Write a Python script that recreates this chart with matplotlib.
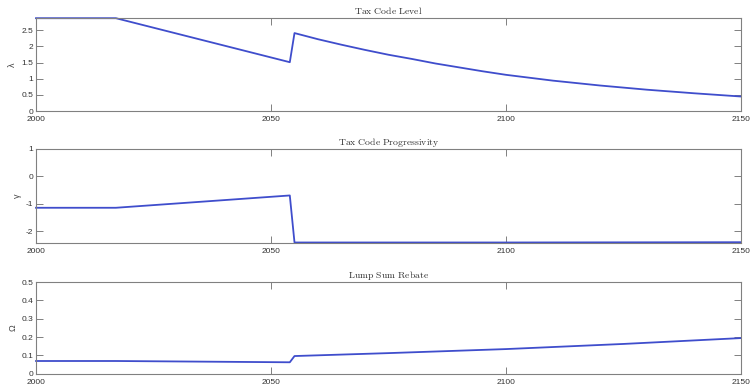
import numpy as np
import matplotlib
matplotlib.use("Agg")
import matplotlib.pyplot as plt

plt.rcParams['font.family'] = ['Liberation Sans', 'DejaVu Sans']
plt.rcParams['mathtext.fontset'] = 'cm'

# data
years_level = [2000, 2017, 2054, 2055, 2060, 2065, 2070, 2075, 2080, 2085,
               2090, 2095, 2100, 2110, 2120, 2130, 2140, 2150]
tax_level = [2.87, 2.87, 1.51, 2.41, 2.22, 2.05, 1.89, 1.74, 1.61, 1.47,
             1.35, 1.23, 1.12, 0.94, 0.79, 0.66, 0.55, 0.45]

years_prog = [2000, 2017, 2054, 2055, 2100, 2150]
tax_prog = [-1.15, -1.15, -0.70, -2.42, -2.42, -2.41]

years_rebate = [2000, 2017, 2054, 2055, 2075, 2100, 2125, 2150]
rebate = [0.070, 0.070, 0.063, 0.097, 0.113, 0.135, 0.163, 0.195]

titles = ['Tax Code Level', 'Tax Code Progressivity', 'Lump Sum Rebate']
ylabels = ['λ', 'γ', 'Ω']
xticks = [2000, 2050, 2100, 2150]
yticks = [[0, 0.5, 1, 1.5, 2, 2.5], [-2, -1, 0, 1], [0, 0.1, 0.2, 0.3, 0.4, 0.5]]
yticklabels = [['0', '0.5', '1', '1.5', '2', '2.5'], ['-2', '-1', '0', '1'],
               ['0', '0.1', '0.2', '0.3', '0.4', '0.5']]
ylims = [(0, 2.87), (-2.44, 1), (0, 0.5)]

series = [(years_level, tax_level), (years_prog, tax_prog), (years_rebate, rebate)]

fig = plt.figure(figsize=(7.5, 3.87), dpi=100)
# [left, bottom, width, height] for the three stacked panels
boxes = [[0.048, 0.713, 0.940, 0.240],
         [0.048, 0.372, 0.940, 0.243],
         [0.048, 0.034, 0.940, 0.237]]

gray = '#808080'
line_col = '#3f4dcc'

for i in range(3):
    ax = fig.add_axes(boxes[i])
    x, y = series[i]
    ax.plot(x, y, color=line_col, linewidth=1.3, clip_on=False)
    ax.set_xlim(2000, 2150)
    ax.set_ylim(*ylims[i])
    ax.set_xticks(xticks)
    ax.set_xticklabels([str(t) for t in xticks])
    ax.set_yticks(yticks[i])
    ax.set_yticklabels(yticklabels[i])
    ax.tick_params(direction='in', length=5, width=0.7, colors=gray,
                   labelcolor='#333333', labelsize=6, top=True, right=True, pad=2)
    ax.tick_params(axis='x', pad=3.5)
    for s in ax.spines.values():
        s.set_color(gray)
        s.set_linewidth(0.8)
    ax.set_title(r'$\mathrm{' + titles[i].replace(' ', r'\ ') + '}$',
                 fontsize=7, color='#333333', pad=3)
    ax.set_ylabel(ylabels[i], fontsize=6.5, color='#444444', labelpad=3)

fig.savefig('out.png', dpi=100)
